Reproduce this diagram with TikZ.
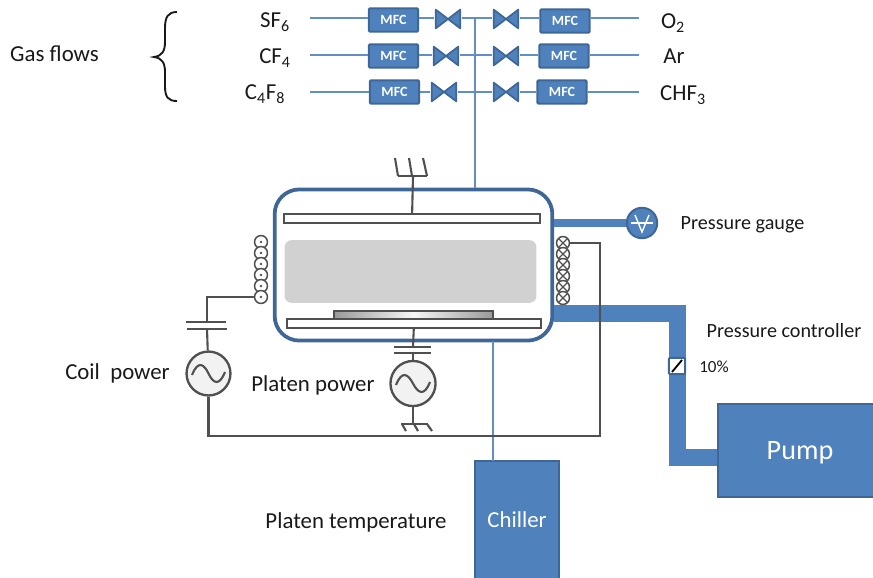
\documentclass[tikz,border=0pt]{standalone}
\usepackage{fontspec}
\setmainfont{Carlito}
\definecolor{pipeblue}{HTML}{4F81BD}
\definecolor{edgeblue}{HTML}{3E6797}
\definecolor{wiregray}{HTML}{505050}
\tikzset{
	gasline/.style={draw=pipeblue!90!white, line width=2pt},
	mfcbox/.style={draw=edgeblue, fill=pipeblue, line width=1.7pt, rounded corners=1pt, minimum width=42pt, minimum height=20pt, inner sep=0pt, text=white, font=\fontsize{12}{12}\selectfont\bfseries},
	valve/.style={minimum width=23pt, minimum height=18pt, inner sep=0pt, path picture={
		\draw[edgeblue, fill=pipeblue, line width=1.5pt, line join=round]
			([shift={(1pt,-1pt)}]path picture bounding box.north west) -- ([shift={(-1pt,1pt)}]path picture bounding box.south east)
			-- ([shift={(-1pt,-1pt)}]path picture bounding box.north east) -- ([shift={(1pt,1pt)}]path picture bounding box.south west) -- cycle;}},
	label/.style={font=\fontsize{19.5}{19.5}\selectfont, text=black!90, inner sep=0pt},
	smalllabel/.style={label, font=\fontsize{17.2}{17.2}\selectfont},
	wire/.style={draw=wiregray, line width=1.8pt},
	coilup/.style={circle, draw=wiregray, fill=white, line width=1.3pt, minimum size=11pt, inner sep=0pt},
	coildown/.style={coilup, path picture={
		\draw[wiregray, line width=1pt] (path picture bounding box.north west) -- (path picture bounding box.south east);
		\draw[wiregray, line width=1pt] (path picture bounding box.north east) -- (path picture bounding box.south west);}},
	electrode/.style={draw=wiregray, fill=white, line width=1.6pt},
	acsource/.style={circle, draw=wiregray, fill=black!5, line width=2pt, inner sep=0pt},
	block/.style={draw=edgeblue, fill=pipeblue, line width=1.7pt, text=white, inner sep=0pt}
}

\begin{document}
\begin{tikzpicture}[x=0.03cm, y=-0.03cm]
	\useasboundingbox (0,0) rectangle (873,577);

	% Gas labels
	\node[label] (gasflows) at (54.5,54) {Gas flows};
	\draw[black!90, line width=1.6pt] (177,12) .. controls (168,12) and (165,17) .. (165,28) -- (165,42) .. controls (165,51) and (162,56) .. (154,57) .. controls (162,58) and (165,63) .. (165,72) -- (165,86) .. controls (165,97) and (168,101) .. (177,101);
	\node[label] (sf6) at (275,22) {SF\textsubscript{6}};
	\node[label] (cf4) at (275,58) {CF\textsubscript{4}};
	\node[label] (c4f8) at (265,94) {C\textsubscript{4}F\textsubscript{8}};
	\node[label] (o2) at (673,23) {O\textsubscript{2}};
	\node[label] (ar) at (674,56) {Ar};
	\node[label] (chf3) at (683,95) {CHF\textsubscript{3}};

	% Free ends of the gas lines
	\coordinate (inA) at (310,18);
	\coordinate (inB) at (310,55);
	\coordinate (inC) at (310,92);
	\coordinate (outA) at (639,18);
	\coordinate (outB) at (639,55);
	\coordinate (outC) at (639,92);
	\coordinate (mainA) at (475,18);

	% MFC boxes
	\node[mfcbox] (mfcA) at (393.5,20) {MFC};
	\node[mfcbox] (mfcB) at (393.5,56) {MFC};
	\node[mfcbox] (mfcC) at (394.5,92) {MFC};
	\node[mfcbox] (mfcD) at (565,21) {MFC};
	\node[mfcbox] (mfcE) at (564,56) {MFC};
	\node[mfcbox] (mfcF) at (562,92) {MFC};

	% Valves
	\node[valve] (valveA) at (448,19) {};
	\node[valve] (valveB) at (446,56) {};
	\node[valve] (valveC) at (444,92) {};
	\node[valve] (valveD) at (506,19) {};
	\node[valve] (valveE) at (506,56) {};
	\node[valve] (valveF) at (506,92) {};

	% Chamber
	\node[draw=edgeblue, line width=3.2pt, rounded corners=21pt, minimum width=237pt, minimum height=129pt, inner sep=0pt] (chamber) at (413.5,265) {};

	% Gas lines
	\draw[gasline] (inA) -- (mfcA.west |- inA);
	\draw[gasline] (inB) -- (mfcB.west |- inB);
	\draw[gasline] (inC) -- (mfcC);
	\draw[gasline] (mfcA.east |- inA) -- (valveA.west |- inA);
	\draw[gasline] (mfcB.east |- inB) -- (valveB.west |- inB);
	\draw[gasline] (mfcC) -- (valveC);
	\draw[gasline] (valveA.east |- inA) -- (valveD.west |- inA);
	\draw[gasline] (valveB.east |- inB) -- (valveE.west |- inB);
	\draw[gasline] (valveC) -- (valveF);
	\draw[gasline] (valveD.east |- outA) -- (mfcD.west |- outA);
	\draw[gasline] (valveE.east |- outB) -- (mfcE.west |- outB);
	\draw[gasline] (valveF) -- (mfcF);
	\draw[gasline] (mfcD.east |- outA) -- (outA);
	\draw[gasline] (mfcE.east |- outB) -- (outB);
	\draw[gasline] (mfcF) -- (outC);
	\draw[gasline] (mainA) -- (mainA |- chamber.north);

	% Plasma, electrodes and wafer
	\node[fill=black!18, rounded corners=6pt, minimum width=215pt, minimum height=53.5pt, inner sep=0pt] (plasma) at (410.5,271.5) {};
	\node[electrode, minimum width=218pt, minimum height=7.5pt, inner sep=0pt] (topplate) at (412,218.5) {};
	\node[electrode, minimum width=217pt, minimum height=7.5pt, inner sep=0pt] (botplate) at (414,323.5) {};
	\node[draw=wiregray, line width=1.3pt, minimum width=136pt, minimum height=6.5pt, inner sep=0pt, left color=black!40, right color=black!40, middle color=black!3] (wafer) at (413.5,315) {};

	% Pipes
	\coordinate (pipestart) at (chamber.east |- 0,313.5);
	\coordinate (pipebend) at (677.5,313.5);
	\coordinate (pipelow) at (677.5,457);
	\node[block, minimum width=139.5pt, minimum height=79pt, font=\fontsize{24}{24}\selectfont] (pump) at (800,450.5) {\raisebox{-8pt}[0pt][0pt]{Pump}};
	\node[block, minimum width=71.4pt, minimum height=100.4pt, font=\fontsize{19.5}{19.5}\selectfont] (chiller) at (517,520) {Chiller};
	\node[circle, draw=edgeblue, fill=pipeblue, line width=1.7pt, minimum size=26pt, inner sep=0pt] (gauge) at (642,223) {};
	\draw[pipeblue, line width=6.5pt] (chamber.east |- gauge) -- (gauge);
	\draw[pipeblue, line width=14.5pt, line join=miter] (pipestart) -- (pipebend) -- (pipelow) -- (pipelow -| pump.west);
	\draw[gasline] (493,341) -- (493,461);
	\draw[white, line width=1.2pt] (631,223) -- (653,223);
	\draw[white, line width=1.2pt] (635,215) -- (642,232) -- (649,215);

	% Pressure controller
	\node[draw=edgeblue, fill=white, line width=1.7pt, rounded corners=1pt, minimum size=14pt, inner sep=0pt] (controller) at (677,366) {};
	\draw[black, line width=1.6pt] (672,372) -- (682,360);

	% Coils
	\node[coilup] (coilLa) at (261,242) {};
	\node[coilup] (coilLb) at (261,253) {};
	\node[coilup] (coilLc) at (261,264) {};
	\node[coilup] (coilLd) at (261,275) {};
	\node[coilup] (coilLe) at (261,286) {};
	\node[coilup] (coilLf) at (261,297) {};
	\fill[wiregray] (coilLa) circle (1.1pt);
	\fill[wiregray] (coilLb) circle (1.1pt);
	\fill[wiregray] (coilLc) circle (1.1pt);
	\fill[wiregray] (coilLd) circle (1.1pt);
	\fill[wiregray] (coilLe) circle (1.1pt);
	\fill[wiregray] (coilLf) circle (1.1pt);
	\node[coildown] (coilRa) at (563,243) {};
	\node[coildown] (coilRb) at (563,254) {};
	\node[coildown] (coilRc) at (563,265) {};
	\node[coildown] (coilRd) at (563,276) {};
	\node[coildown] (coilRe) at (563,287) {};
	\node[coildown] (coilRf) at (563,298) {};

	% Sources
	\node[acsource, minimum size=37.5pt] (coilsource) at (208.5,373.5) {};
	\node[acsource, minimum size=38.5pt] (platensource) at (413,383.5) {};
	\draw[wiregray, line width=1.8pt] (192,375) .. controls (198,360) and (204,364) .. (208.5,373.5) .. controls (213,383) and (219,387) .. (225,372);
	\draw[wiregray, line width=1.8pt] (396,385) .. controls (402,370) and (408,374) .. (413,383.5) .. controls (418,393) and (424,397) .. (430,382);

	% Coil circuit
	\coordinate (capLa) at (207,322);
	\coordinate (capLb) at (207,329);
	\coordinate (capPa) at (413,347);
	\coordinate (capPb) at (413,353);
	\coordinate (return) at (208.5,436);
	\coordinate (returnR) at (600,436);
	\draw[wire] (coilLf) -- (coilLf -| capLa) -- (capLa);
	\draw[wire] (capLb) -- (coilsource);
	\draw[wire] (coilsource) -- (return) -- (returnR) -- (returnR |- coilRa) -- (coilRa);
	\draw[wire] (186,322) -- (226,322);
	\draw[wire] (187,329) -- (227,329);

	% Platen circuit
	\draw[wire] (botplate) -- (capPa);
	\draw[wire] (capPb) -- (platensource);
	\draw[wire] (394,347) -- (431,347);
	\draw[wire] (394,353) -- (431,353);
	\coordinate (groundP) at (413,424);
	\draw[wire] (platensource) -- (groundP);
	\draw[wire] (401,424) -- (428,424);
	\draw[wire] (402,424) -- (406,431);
	\draw[wire] (414,424) -- (418,431);
	\draw[wire] (427,424) -- (432,431);

	% Top ground
	\coordinate (groundT) at (413,176);
	\draw[wire] (topplate) -- (groundT);
	\draw[wire] (398,176) -- (427,176);
	\draw[wire] (398,176) -- (395,158);
	\draw[wire] (412,176) -- (409,158);
	\draw[wire] (427,176) -- (423,158);

	% Remaining labels
	\node[smalllabel] (gaugelabel) at (742.5,225) {Pressure gauge};
	\node[smalllabel] (controllerlabel) at (784,331) {Pressure controller};
	\node[label, font=\fontsize{14.5}{14.5}\selectfont] (percent) at (714,367) {10\%};
	\node[label] (coillabel) at (117.5,373) {Coil~~power};
	\node[label] (platenlabel) at (313,385) {Platen power};
	\node[label] (templabel) at (356,522) {Platen temperature};
\end{tikzpicture}
\end{document}
